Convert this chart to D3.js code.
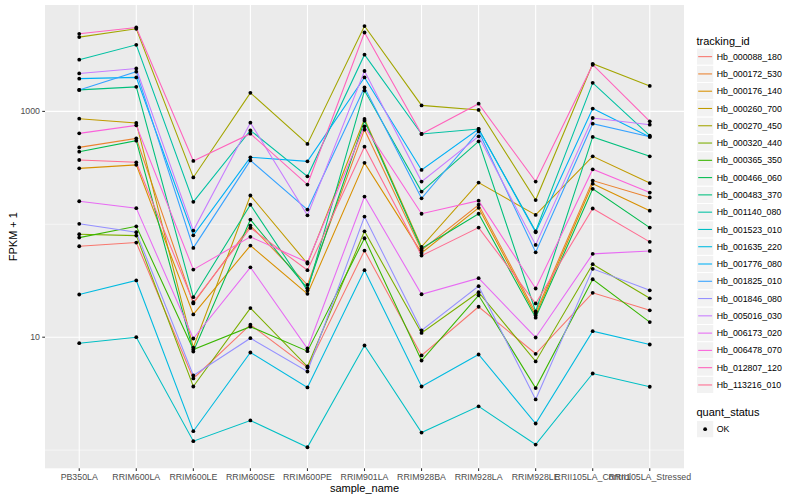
<!DOCTYPE html>
<html>
<head>
<meta charset="utf-8">
<title>FPKM by sample</title>
<script src="https://d3js.org/d3.v7.min.js"></script>
<style>
    body { margin: 0; background: #fff; }
    text { font-family: "Liberation Sans", Arial, sans-serif; }
    .tick-label { font-size: 8.8px; fill: #4d4d4d; }
    .axis-title { font-size: 11px; fill: #000; }
    .legend-title { font-size: 11px; fill: #000; }
    .legend-label { font-size: 8.8px; fill: #000; }
    .grid-major { stroke: #fff; stroke-width: 1.07; }
    .grid-minor { stroke: #fff; stroke-width: 0.53; }
    .tick-mark { stroke: #333; stroke-width: 1.07; }
    .series-line { fill: none; stroke-width: 1.07; }
</style>
</head>
<body>
<script>

    var samples = ["PB350LA", "RRIM600LA", "RRIM600LE", "RRIM600SE", "RRIM600PE", "RRIM901LA",
                   "RRIM928BA", "RRIM928LA", "RRIM928LE", "RRII105LA_Control", "RRII105LA_Stressed"];

    var trackingIds = ["Hb_000088_180", "Hb_000172_530", "Hb_000176_140", "Hb_000260_700", "Hb_000270_450",
                       "Hb_000320_440", "Hb_000365_350", "Hb_000466_060", "Hb_000483_370", "Hb_001140_080",
                       "Hb_001523_010", "Hb_001635_220", "Hb_001776_080", "Hb_001825_010", "Hb_001846_080",
                       "Hb_005016_030", "Hb_006173_020", "Hb_006478_070", "Hb_012807_120", "Hb_113216_010"];

    // ggplot hue palette, 20 levels
    var hueColors = ["#F8766D", "#EA8331", "#D89000", "#C09B00", "#A3A500", "#7CAE00", "#39B600", "#00BB4E",
                     "#00BF7D", "#00C1A3", "#00BFC4", "#00BAE0", "#00B0F6", "#35A2FF", "#9590FF", "#C77CFF",
                     "#E76BF3", "#FA62DB", "#FF62BC", "#FF6C91"];

    // FPKM + 1, one value per sample
    var hb_000088_180 = [63.9, 68.9, 4.31, 12.9, 5.39, 58.5, 6.89, 18.6, 7.13, 24.7, 17.3];
    var hb_000172_530 = [480, 577, 19.9, 97.4, 29.1, 689, 58.9, 149, 16.5, 244, 173];
    var hb_000176_140 = [313, 336, 15.9, 64.8, 24.2, 350, 55.8, 140, 15.6, 229, 132];
    var hb_000260_700 = [862, 790, 8.1, 180, 44.9, 857, 63.1, 234, 121, 400, 232];
    var hb_000270_450 = [4550, 5390, 260, 1460, 515, 5700, 1130, 1030, 164, 2640, 1680];
    var hb_000320_440 = [81.6, 79.4, 3.66, 18.1, 5.5, 86.7, 10.9, 25, 6.1, 44.3, 22.1];
    var hb_000365_350 = [76.2, 96, 7.78, 12.4, 7.52, 75.2, 6.22, 23.5, 3.54, 32.6, 13.6];
    var hb_000466_060 = [440, 550, 7.47, 110, 27.1, 827, 61, 124, 14.9, 206, 93.5];
    var hb_000483_370 = [1550, 1650, 22.6, 149, 25.9, 1530, 195, 543, 16.9, 594, 400];
    var hb_001140_080 = [2870, 3890, 158, 679, 266, 3180, 631, 699, 86.7, 1790, 610];
    var hb_001523_010 = [8.85, 10, 1.2, 1.83, 1.06, 8.44, 1.43, 2.44, 1.12, 4.77, 3.64];
    var hb_001635_220 = [23.9, 31.8, 1.47, 7.32, 3.59, 39.2, 3.66, 7.03, 1.72, 11.3, 8.62];
    var hb_001776_080 = [1950, 2000, 79.9, 392, 361, 2000, 303, 699, 85, 1060, 594];
    var hb_001825_010 = [1550, 2250, 61.8, 368, 135, 1630, 170, 665, 56.5, 778, 597];
    var hb_001846_080 = [101, 85, 4.58, 9.8, 4.97, 117, 11.5, 28.3, 2.81, 40.3, 26];
    var hb_005016_030 = [2170, 2400, 88, 794, 120, 2280, 239, 601, 65.7, 874, 763];
    var hb_006173_020 = [160, 139, 9.74, 41.6, 7.94, 176, 24, 33.3, 9.94, 54.7, 58.1];
    var hb_006478_070 = [639, 752, 39.7, 77.4, 46.1, 737, 124, 162, 27, 307, 191];
    var hb_012807_120 = [4870, 5540, 364, 635, 225, 5000, 631, 1170, 239, 2590, 816];
    var hb_113216_010 = [371, 354, 20.4, 92.9, 39.2, 487, 52.8, 93.5, 19.9, 138, 69.9];

    var seriesValues = [hb_000088_180, hb_000172_530, hb_000176_140, hb_000260_700, hb_000270_450,
                        hb_000320_440, hb_000365_350, hb_000466_060, hb_000483_370, hb_001140_080,
                        hb_001523_010, hb_001635_220, hb_001776_080, hb_001825_010, hb_001846_080,
                        hb_005016_030, hb_006173_020, hb_006478_070, hb_012807_120, hb_113216_010];

    var yLabelTicks = [10, 1000];
    var yMinorGrid = [1, 100];
    var quantStatus = ["OK"];

    var width = 800,
        height = 500,
        panel = { left: 45, right: 684, top: 5, bottom: 468.3 };

    var svg = d3.select("body").append("svg")
        .attr("width", width)
        .attr("height", height);

    var series = trackingIds.map(function (id, i) {
        return { id: id, color: hueColors[i], values: seriesValues[i] };
    });

    // log scale with ggplot's 5% expansion
    var allValues = d3.merge(seriesValues);
    var logExtent = d3.extent(allValues, function (v) { return Math.log10(v); });
    var pad = (logExtent[1] - logExtent[0]) * 0.05;

    var y = d3.scaleLog()
        .domain([Math.pow(10, logExtent[0] - pad), Math.pow(10, logExtent[1] + pad)])
        .range([panel.bottom, panel.top]);

    var x = d3.scalePoint()
        .domain(samples)
        .range([panel.left, panel.right])
        .padding(0.6);

    // panel background
    svg.append("rect")
        .attr("x", panel.left).attr("y", panel.top)
        .attr("width", panel.right - panel.left)
        .attr("height", panel.bottom - panel.top)
        .attr("fill", "#EBEBEB");

    var grid = svg.append("g");

    grid.selectAll(".grid-minor")
        .data(yMinorGrid).enter().append("line")
        .attr("class", "grid-minor")
        .attr("x1", panel.left).attr("x2", panel.right)
        .attr("y1", function (d) { return y(d); })
        .attr("y2", function (d) { return y(d); });

    grid.selectAll(".grid-major.h")
        .data(yLabelTicks).enter().append("line")
        .attr("class", "grid-major h")
        .attr("x1", panel.left).attr("x2", panel.right)
        .attr("y1", function (d) { return y(d); })
        .attr("y2", function (d) { return y(d); });

    grid.selectAll(".grid-major.v")
        .data(samples).enter().append("line")
        .attr("class", "grid-major v")
        .attr("y1", panel.top).attr("y2", panel.bottom)
        .attr("x1", function (d) { return x(d); })
        .attr("x2", function (d) { return x(d); });

    // lines then points
    var line = d3.line()
        .x(function (d, i) { return x(samples[i]); })
        .y(function (d) { return y(d); });

    svg.append("g").selectAll("path")
        .data(series).enter().append("path")
        .attr("class", "series-line")
        .attr("stroke", function (d) { return d.color; })
        .attr("d", function (d) { return line(d.values); });

    var pointGroup = svg.append("g");
    series.forEach(function (s) {
        pointGroup.selectAll(null)
            .data(s.values).enter().append("circle")
            .attr("cx", function (d, i) { return x(samples[i]); })
            .attr("cy", function (d) { return y(d); })
            .attr("r", 1.9)
            .attr("fill", "#000");
    });

    // y axis
    var yAxis = svg.append("g");
    yAxis.selectAll(".tick-mark")
        .data(yLabelTicks).enter().append("line")
        .attr("class", "tick-mark")
        .attr("x1", panel.left - 2.75).attr("x2", panel.left)
        .attr("y1", function (d) { return y(d); })
        .attr("y2", function (d) { return y(d); });
    yAxis.selectAll(".tick-label")
        .data(yLabelTicks).enter().append("text")
        .attr("class", "tick-label")
        .attr("text-anchor", "end")
        .attr("x", panel.left - 5)
        .attr("y", function (d) { return y(d) + 3.1; })
        .text(function (d) { return d3.format("d")(d); });

    // x axis
    var xAxis = svg.append("g");
    xAxis.selectAll(".tick-mark")
        .data(samples).enter().append("line")
        .attr("class", "tick-mark")
        .attr("y1", panel.bottom).attr("y2", panel.bottom + 2.75)
        .attr("x1", function (d) { return x(d); })
        .attr("x2", function (d) { return x(d); });
    xAxis.selectAll(".tick-label")
        .data(samples).enter().append("text")
        .attr("class", "tick-label")
        .attr("text-anchor", "middle")
        .attr("x", function (d) { return x(d); })
        .attr("y", panel.bottom + 12)
        .text(function (d) { return d; });

    svg.append("text")
        .attr("class", "axis-title")
        .attr("text-anchor", "middle")
        .attr("x", (panel.left + panel.right) / 2)
        .attr("y", 492)
        .text("sample_name");

    svg.append("text")
        .attr("class", "axis-title")
        .attr("text-anchor", "middle")
        .attr("transform", "translate(17," + ((panel.top + panel.bottom) / 2) + ") rotate(-90)")
        .text("FPKM + 1");

    // legends
    var keySize = 17.28,
        legendX = 696.5,
        keyTop = 48;

    var legend = svg.append("g");
    legend.append("text")
        .attr("class", "legend-title")
        .attr("x", legendX).attr("y", 44.5)
        .text("tracking_id");

    var keys = legend.selectAll(".key")
        .data(series).enter().append("g")
        .attr("transform", function (d, i) {
            return "translate(" + legendX + "," + (keyTop + i * keySize) + ")";
        });
    keys.append("rect")
        .attr("width", keySize).attr("height", keySize)
        .attr("fill", "#F2F2F2").attr("stroke", "#fff").attr("stroke-width", 1);
    keys.append("line")
        .attr("x1", 1.7).attr("x2", keySize - 1.7)
        .attr("y1", keySize / 2).attr("y2", keySize / 2)
        .attr("stroke", function (d) { return d.color; })
        .attr("stroke-width", 1.07);
    keys.append("text")
        .attr("class", "legend-label")
        .attr("x", keySize + 3)
        .attr("y", keySize / 2 + 3.1)
        .text(function (d) { return d.id; });

    var statusTop = 420.5;
    legend.append("text")
        .attr("class", "legend-title")
        .attr("x", legendX).attr("y", 416)
        .text("quant_status");

    var statusKeys = legend.selectAll(".status-key")
        .data(quantStatus).enter().append("g")
        .attr("transform", function (d, i) {
            return "translate(" + legendX + "," + (statusTop + i * keySize) + ")";
        });
    statusKeys.append("rect")
        .attr("width", keySize).attr("height", keySize)
        .attr("fill", "#F2F2F2").attr("stroke", "#fff").attr("stroke-width", 1);
    statusKeys.append("circle")
        .attr("cx", keySize / 2).attr("cy", keySize / 2)
        .attr("r", 1.9).attr("fill", "#000");
    statusKeys.append("text")
        .attr("class", "legend-label")
        .attr("x", keySize + 3)
        .attr("y", keySize / 2 + 3.1)
        .text(function (d) { return d; });

</script>
</body>
</html>
